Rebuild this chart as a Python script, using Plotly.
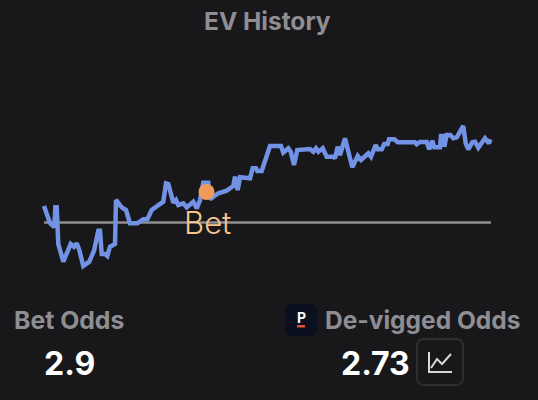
import plotly.graph_objects as go

# time axis and EV reading
times = [44, 50, 54.3, 55.3, 56.7, 58.3, 63.3, 70.7, 74, 76.7, 79.3, 83.3, 89.3, 94, 98.3, 100, 101.7, 105, 107.3, 110,
         115, 116, 121.7, 126, 130, 137.3, 143.3, 147.3, 151.7, 156, 163.3, 166, 168.3, 173.3, 176, 178.3, 183.3, 186.7,
         193.3, 196.7, 200, 203.3, 208.3, 210, 218.3, 226.7, 233.3, 235, 237.7, 240, 250, 252.7, 256, 257.3, 261.7, 270,
         281, 283.3, 288.3, 290.7, 294, 297.3, 310, 313.3, 316, 318.3, 322.7, 326.7, 333.3, 335, 337.7, 340, 345, 352.3,
         357.7, 361, 368.3, 371, 375.7, 377.7, 381.7, 384.3, 387.7, 389, 394.3, 397.7, 415, 416.7, 420, 426.7, 429.3,
         432.3, 434.3, 440, 441, 443.7, 444.3, 446.7, 450.3, 453.3, 456.7, 463.3, 465.7, 468.3, 472.3, 475, 478.3, 485,
         489, 490.3]
ev = [16, -1, -5, 14.7, 14.7, -22, -39.7, -22, -24.7, -21.3, -28, -44, -39.7, -28.7, -8.7, -8.7, -32, -32, -34, -24.7,
      -22, 22, 14.7, 12, -1.3, -1.3, 2.7, 2.7, 12, 14.7, 20.3, 38.7, 38, 19.3, 22, 17, 18.7, 14.7,
      20.3, 13.7, 22, 39.3, 39.3, 22.7, 28.7, 31.3, 36, 45.3, 32, 44.7, 43.7, 53.7, 53.7, 51, 51, 76,
      76, 69.3, 73.7, 70.3, 57, 72, 73, 70.3, 73.7, 70.3, 73.7, 65.3, 65.3, 63.7, 75.3, 67, 83.7, 54.7,
      66, 62, 68.7, 65.3, 77, 72.7, 72.7, 78, 78, 82.7, 82.7, 79.7, 79.7, 77.7, 80, 80, 72.7,
      81.3, 74.7, 74.7, 86, 86, 75.3, 87, 87, 83.7, 84.7, 96, 78.7, 72.7, 79.7, 80.3, 74.3, 83.7,
      78.7, 82.7]

baseline_x = [44, 491]
baseline_y = [-0.5, -0.5]
bet_x = [206.5]
bet_y = [30]

BG = "#18181b"
GREY = "#8e8e93"
FONT = "Inter"

fig = go.Figure()
fig.add_trace(go.Scatter(x=baseline_x, y=baseline_y, mode="lines",
                         line=dict(color="#8f8f8f", width=2.5), hoverinfo="skip"))
fig.add_trace(go.Scatter(x=times, y=ev, mode="lines",
                         line=dict(color="#7292e6", width=4.5)))
fig.add_trace(go.Scatter(x=bet_x, y=bet_y, mode="markers",
                         marker=dict(color="#f09c58", size=16)))


def label(x, y, text, size, color, weight=700, anchor="center"):
    fig.add_annotation(xref="paper", yref="paper", x=x / 538, y=1 - y / 400, text=text, showarrow=False,
                       xanchor=anchor, yanchor="middle", borderpad=0,
                       font=dict(family=FONT, size=size, color=color, weight=weight))


def rounded(x0, y0, x1, y1, r):
    # pixel box to a path on the data axes, y axis runs 222 at the top
    top, bot = 222 - y0, 222 - y1
    return (f"M {x0 + r} {top} L {x1 - r} {top} Q {x1} {top} {x1} {top - r} L {x1} {bot + r} "
            f"Q {x1} {bot} {x1 - r} {bot} L {x0 + r} {bot} Q {x0} {bot} {x0} {bot + r} "
            f"L {x0} {top - r} Q {x0} {top} {x0 + r} {top} Z")


def polyline(*pts):
    return "M " + " L ".join(f"{x} {222 - y}" for x, y in pts)


label(267, 21, "EV History", 24.5, GREY)
label(207.5, 222, "Bet", 31, "#f7c48f", weight=300)
label(13, 320, "Bet Odds", 24.8, GREY, anchor="left")
label(69.5, 363, "2.9", 32, "#ffffff")
label(324, 320, "De-vigged Odds", 24.5, GREY, anchor="left")
label(375.5, 363, "2.73", 32, "#ffffff")

# app icon
fig.add_shape(type="path", fillcolor="#0a1020", line_width=0, path=rounded(285, 304, 317, 336, 7))
label(301, 317, "P", 14, "#ffffff")
fig.add_shape(type="path", fillcolor="#e0502a", line_width=0, path=rounded(297, 325, 305, 327.5, 0))

# little chart button
fig.add_shape(type="path", line=dict(color="#2e2e31", width=2), path=rounded(417, 339, 463, 385, 7))
fig.add_shape(type="path", line=dict(color="#d8d8d8", width=2), path=polyline((429, 352), (429, 372), (452, 372)))
fig.add_shape(type="path", line=dict(color="#d8d8d8", width=2),
              path=polyline((431, 368), (437, 359), (442, 364), (451, 354)))

fig.update_layout(width=538, height=400, margin=dict(l=0, r=0, t=0, b=0), showlegend=False,
                  paper_bgcolor=BG, plot_bgcolor=BG)
fig.update_xaxes(range=[0, 538], visible=False)
fig.update_yaxes(range=[-178, 222], visible=False)

fig.write_html("out.html", config={"displayModeBar": False},
               post_script="document.body.style.margin='0';document.body.style.overflow='hidden';"
                           "document.body.style.background='#18181b';")
